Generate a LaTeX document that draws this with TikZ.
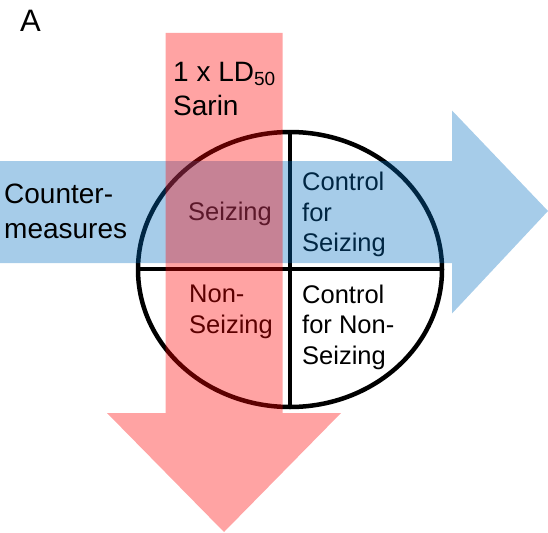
\documentclass[tikz,border=0pt]{standalone}
\usepackage{fontspec}
\setmainfont{Liberation Sans}
\definecolor{doseRed}{HTML}{FF0000}
\definecolor{cmBlue}{HTML}{016DC0}

\begin{document}
\begin{tikzpicture}[x=1pt,y=-1pt,
    quadtext/.style={inner sep=0pt,anchor=base west,align=left,
      font=\fontsize{25.5}{30.5}\selectfont},
    armtext/.style={inner sep=0pt,anchor=base west,align=left,
      font=\fontsize{28}{35}\selectfont}]

  \useasboundingbox (0,0) rectangle (548,532);

  % ---- Study groups: circle split in four ------------------------
  % (base of a multi-line node sits on its last line)
  \draw[line width=4.5pt] (290,269.5) ellipse (152 and 137.5);
  \draw[line width=3.2pt] (290,132) -- (290,407);
  \draw[line width=3.2pt] (138,269) -- (442,269);

  \node[quadtext] (seizing)    at (188,220.7) {Seizing};
  \node[quadtext] (nonseizing) at (189,333.2) {Non-\\Seizing};
  \node[quadtext] (ctrlseiz)   at (302,251.7) {Control\\for\\Seizing};
  \node[quadtext] (ctrlnon)    at (302,364)   {Control\\for Non-\\Seizing};

  % ---- Countermeasure arrow (left to right) ----------------------
  \fill[cmBlue,opacity=0.35]
    (0,161) -- (452,161) -- (452,110.5) -- (548,211)
    -- (452,313.5) -- (452,263) -- (0,263) -- cycle;

  % ---- Sarin exposure arrow (top to bottom) ----------------------
  \fill[doseRed,opacity=0.36]
    (165.5,33) -- (282.5,33) -- (282.5,413) -- (341,413)
    -- (224,532) -- (107,413) -- (165.5,413) -- cycle;

  % ---- Arrow labels and panel letter -----------------------------
  \node[armtext] (sarin) at (173,116)
    {1 x LD\raisebox{-5pt}{\fontsize{19}{19}\selectfont 50}\\Sarin};
  \node[armtext] (counter) at (4,238) {Counter-\\measures};
  \node[inner sep=0pt,anchor=base west,font=\fontsize{31}{31}\selectfont]
    (panel) at (20,31.5) {A};

\end{tikzpicture}
\end{document}
